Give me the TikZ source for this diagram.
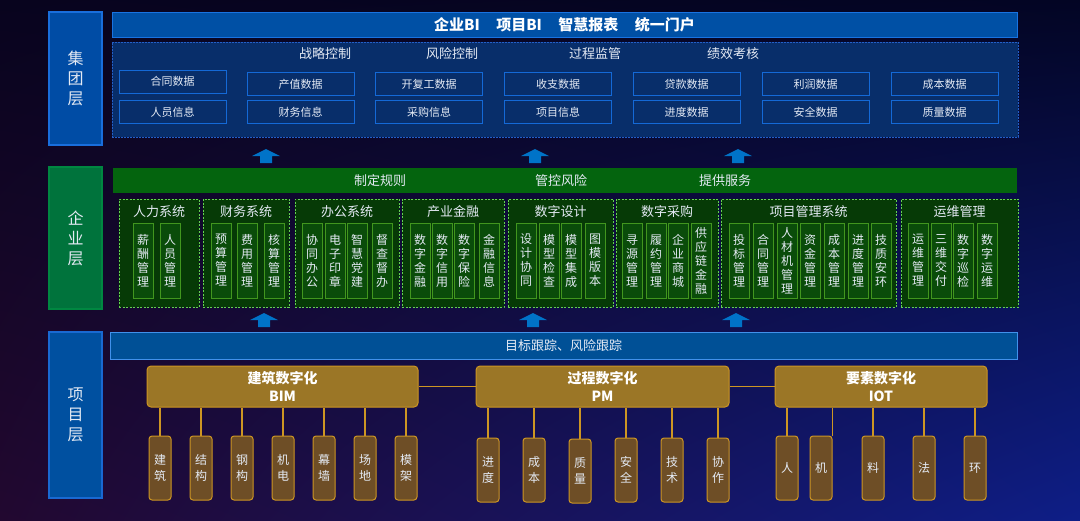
\documentclass[tikz,border=0pt]{standalone}
\usepackage{fontspec}
\setmainfont{Noto Sans CJK SC}
\usetikzlibrary{shadings}

\definecolor{bgul}{RGB}{8,4,30}
\definecolor{bgur}{RGB}{3,5,36}
\definecolor{bgll}{RGB}{34,8,48}
\definecolor{bglr}{RGB}{14,30,135}
\definecolor{softwhite}{RGB}{228,234,244}
\definecolor{headblue}{RGB}{0,80,165}
\definecolor{headline}{RGB}{25,115,225}
\definecolor{areablue}{RGB}{8,46,106}
\definecolor{arealine}{RGB}{35,95,200}
\definecolor{databorder}{RGB}{20,105,215}
\definecolor{jtfill}{RGB}{0,76,165}
\definecolor{jtline}{RGB}{25,110,220}
\definecolor{qyfill}{RGB}{0,115,60}
\definecolor{qyline}{RGB}{0,135,65}
\definecolor{xmfill}{RGB}{0,80,160}
\definecolor{xmline}{RGB}{25,105,210}
\definecolor{barfill}{RGB}{4,100,14}
\definecolor{grpfill}{RGB}{6,58,6}
\definecolor{grpline}{RGB}{100,210,80}
\definecolor{sysfill}{RGB}{10,76,10}
\definecolor{sysline}{RGB}{65,150,30}
\definecolor{trackfill}{RGB}{0,80,150}
\definecolor{trackline}{RGB}{65,145,235}
\definecolor{goldfill}{RGB}{155,118,38}
\definecolor{goldline}{RGB}{205,150,35}
\definecolor{leaffill}{RGB}{110,78,38}
\definecolor{arrowblue}{RGB}{0,115,200}

\tikzset{
  layerbox/.style={draw=#1,line width=1.2pt,minimum width=53pt,text=softwhite,
    font=\fontsize{16}{20}\selectfont,align=center},
  databox/.style={draw=databorder,fill=areablue,line width=0.8pt,minimum width=107pt,
    minimum height=23pt,inner sep=0pt,text=softwhite,font=\fontsize{11}{13}\selectfont},
  grpbox/.style={draw=grpline,fill=grpfill,dash pattern=on 2pt off 1.5pt,line width=0.8pt,
    minimum height=108pt},
  grptitle/.style={text=softwhite,font=\fontsize{13}{15}\selectfont},
  sysbox/.style={draw=sysline,fill=sysfill,line width=1pt,minimum width=20pt,minimum height=75pt,
    inner sep=0pt,align=center,text=softwhite,font=\fontsize{12}{14}\selectfont},
  goldbox/.style={draw=goldline,fill=goldfill,line width=1pt,rounded corners=4pt,minimum height=41pt,
    align=center,text=white,font=\bfseries\fontsize{14}{18}\selectfont},
  leafbox/.style={draw=goldline,fill=leaffill,line width=1pt,rounded corners=3pt,minimum width=22pt,
    minimum height=64pt,inner sep=0pt,align=center,text=softwhite,font=\fontsize{12}{16}\selectfont},
  upar/.pic={\fill[arrowblue] (-6,0) -- (6,0) -- (6,-7) -- (14,-7) -- (0,-14) -- (-14,-7) -- (-6,-7) -- cycle;}
}

\begin{document}
\begin{tikzpicture}[x=1pt,y=-1pt]
  \useasboundingbox (0,0) rectangle (1080,520);
  \shade[upper left=bgul,upper right=bgur,lower left=bgll,lower right=bglr] (0,0) rectangle (1080,520);

  % layer labels
  \node[layerbox=jtline,fill=jtfill,minimum height=133pt] (jt) at (75.5,78.5) {集\\团\\层};
  \node[layerbox=qyline,fill=qyfill,minimum height=142pt] (qy) at (75.5,238) {企\\业\\层};
  \node[layerbox=xmline,fill=xmfill,minimum height=166pt] (xm) at (75.5,415) {项\\目\\层};

  % group layer
  \node[draw=headline,fill=headblue,line width=1pt,minimum width=905pt,minimum height=25pt,text=white,
    font=\bfseries\fontsize{15}{18}\selectfont] (hd) at (564.5,24.5)
    {企业BI\hspace{1.1em}项目BI\hspace{1.1em}智慧报表\hspace{1.1em}统一门户};
  \node[draw=arealine,fill=areablue,dash pattern=on 2pt off 1pt,line width=0.8pt,
    minimum width=906pt,minimum height=95pt] (ar) at (565,89.5) {};
  \begin{scope}[every node/.style={grptitle}]
  \node (ta) at (325,54) {战略控制};
  \node (tb) at (452,54) {风险控制};
  \node (tc) at (595,54) {过程监管};
  \node (td) at (733,54) {绩效考核};
  \end{scope}
  \begin{scope}[every node/.style={databox}]
  \node (da) at (172.5,81.5) {合同数据};
  \node (db) at (300.5,84) {产值数据};
  \node (dc) at (429,84) {开复工数据};
  \node (dd) at (558,84) {收支数据};
  \node (de) at (686.5,84) {贷款数据};
  \node (df) at (815.5,84) {利润数据};
  \node (dg) at (944.5,84) {成本数据};
  \node (ea) at (172.5,112) {人员信息};
  \node (eb) at (300.5,112) {财务信息};
  \node (ec) at (429,112) {采购信息};
  \node (ed) at (558,112) {项目信息};
  \node (ee) at (686.5,112) {进度数据};
  \node (ef) at (815.5,112) {安全数据};
  \node (eg) at (944.5,112) {质量数据};
  \end{scope}
  \pic at (266,163) {upar};
  \pic at (535,163) {upar};
  \pic at (738,163) {upar};

  % enterprise layer
  \node[fill=barfill,minimum width=904pt,minimum height=25pt] (gb) at (565,180.5) {};
  \begin{scope}[every node/.style={grptitle}]
  \node (ra) at (380,180.5) {制定规则};
  \node (rb) at (561,180.5) {管控风险};
  \node (rc) at (725,180.5) {提供服务};
  \end{scope}
  \begin{scope}[every node/.style={grpbox}]
  \node[minimum width=80pt] (ga) at (159,253) {};
  \node[minimum width=86pt] (gb) at (246,253) {};
  \node[minimum width=104pt] (gc) at (347,253) {};
  \node[minimum width=102pt] (gd) at (453,253) {};
  \node[minimum width=105pt] (ge) at (560.5,253) {};
  \node[minimum width=102pt] (gf) at (667,253) {};
  \node[minimum width=175pt] (gg) at (808.5,253) {};
  \node[minimum width=117pt] (gh) at (959.5,253) {};
  \end{scope}
  \begin{scope}[every node/.style={grptitle}]
  \node at (159,212) {人力系统};
  \node at (246,212) {财务系统};
  \node at (347,212) {办公系统};
  \node at (453,212) {产业金融};
  \node at (560.5,212) {数字设计};
  \node at (667,212) {数字采购};
  \node at (808.5,212) {项目管理系统};
  \node at (959.5,212) {运维管理};
  \end{scope}
  \begin{scope}[every node/.style={sysbox}]
  \node (sa1) at (143,260.5) {薪\\酬\\管\\理};
  \node (sa2) at (170,260.5) {人\\员\\管\\理};
  \node (sb1) at (221,260.5) {预\\算\\管\\理};
  \node (sb2) at (247,260.5) {费\\用\\管\\理};
  \node (sb3) at (274,260.5) {核\\算\\管\\理};
  \node (sc1) at (312,260.5) {协\\同\\办\\公};
  \node (sc2) at (335,260.5) {电\\子\\印\\章};
  \node (sc3) at (357,260.5) {智\\慧\\党\\建};
  \node (sc4) at (382,260.5) {督\\查\\督\\办};
  \node (sd1) at (420,260.5) {数\\字\\金\\融};
  \node (sd2) at (442,260.5) {数\\字\\信\\用};
  \node (sd3) at (464,260.5) {数\\字\\保\\险};
  \node (sd4) at (489,260.5) {金\\融\\信\\息};
  \node (se1) at (526,260.5) {设\\计\\协\\同};
  \node (se2) at (549,260.5) {模\\型\\检\\查};
  \node (se3) at (571,260.5) {模\\型\\集\\成};
  \node (se4) at (595,260.5) {图\\模\\版\\本};
  \node (sf1) at (632,260.5) {寻\\源\\管\\理};
  \node (sf2) at (656,260.5) {履\\约\\管\\理};
  \node (sf3) at (678,260.5) {企\\业\\商\\城};
  \node (sf4) at (701,260.5) {供\\应\\链\\金\\融};
  \node (sg1) at (739,260.5) {投\\标\\管\\理};
  \node (sg2) at (763,260.5) {合\\同\\管\\理};
  \node (sg3) at (787,260.5) {人\\材\\机\\管\\理};
  \node (sg4) at (810,260.5) {资\\金\\管\\理};
  \node (sg5) at (834,260.5) {成\\本\\管\\理};
  \node (sg6) at (858,260.5) {进\\度\\管\\理};
  \node (sg7) at (881,260.5) {技\\质\\安\\环};
  \node (sh1) at (918,260.5) {运\\维\\管\\理};
  \node (sh2) at (941,260.5) {三\\维\\交\\付};
  \node (sh3) at (963,260.5) {数\\字\\巡\\检};
  \node (sh4) at (987,260.5) {数\\字\\运\\维};
  \end{scope}
  \pic at (264,327) {upar};
  \pic at (533,327) {upar};
  \pic at (736,327) {upar};

  % project layer
  \node[draw=trackline,fill=trackfill,line width=1pt,minimum width=907pt,minimum height=27pt,
    text=softwhite,font=\fontsize{13}{15}\selectfont] (tk) at (563.5,345.5) {目标跟踪、风险跟踪};
  \node[goldbox,minimum width=271pt] (bim) at (282.5,386.5) {建筑数字化\\BIM};
  \node[goldbox,minimum width=253pt] (pm) at (602.5,386.5) {过程数字化\\PM};
  \node[goldbox,minimum width=212pt] (iot) at (881,386.5) {要素数字化\\IOT};
  \begin{scope}[every node/.style={leafbox}]
  \node (b1) at (160,468) {建\\筑};
  \node (b2) at (201,468) {结\\构};
  \node (b3) at (242,468) {钢\\构};
  \node (b4) at (283,468) {机\\电};
  \node (b5) at (324,468) {幕\\墙};
  \node (b6) at (365,468) {场\\地};
  \node (b7) at (406,468) {模\\架};
  \node (p1) at (488,470) {进\\度};
  \node (p2) at (534,470) {成\\本};
  \node (p3) at (580,471) {质\\量};
  \node (p4) at (626,470) {安\\全};
  \node (p5) at (672,470) {技\\术};
  \node (p6) at (718,470) {协\\作};
  \node (i1) at (787,468) {人};
  \node (i2) at (821,468) {机};
  \node (i3) at (873,468) {料};
  \node (i4) at (924,468) {法};
  \node (i5) at (975,468) {环};
  \end{scope}
  \begin{scope}[every edge/.style={draw=goldline,line width=1.4pt}]
  \path (bim) edge (pm);
  \path (pm) edge (iot);
  \path (bim.south -| b1) edge (b1);
  \path (bim.south -| b2) edge (b2);
  \path (bim.south -| b3) edge (b3);
  \path (bim.south -| b4) edge (b4);
  \path (bim.south -| b5) edge (b5);
  \path (bim.south -| b6) edge (b6);
  \path (bim.south -| b7) edge (b7);
  \path (pm.south -| p1) edge (p1);
  \path (pm.south -| p2) edge (p2);
  \path (pm.south -| p3) edge (p3);
  \path (pm.south -| p4) edge (p4);
  \path (pm.south -| p5) edge (p5);
  \path (pm.south -| p6) edge (p6);
  \path (iot.south -| i1) edge (i1);
  \path (iot.south -| i2.north east) edge (i2.north east);
  \path (iot.south -| i3) edge (i3);
  \path (iot.south -| i4) edge (i4);
  \path (iot.south -| i5) edge (i5);
  \end{scope}
\end{tikzpicture}
\end{document}
